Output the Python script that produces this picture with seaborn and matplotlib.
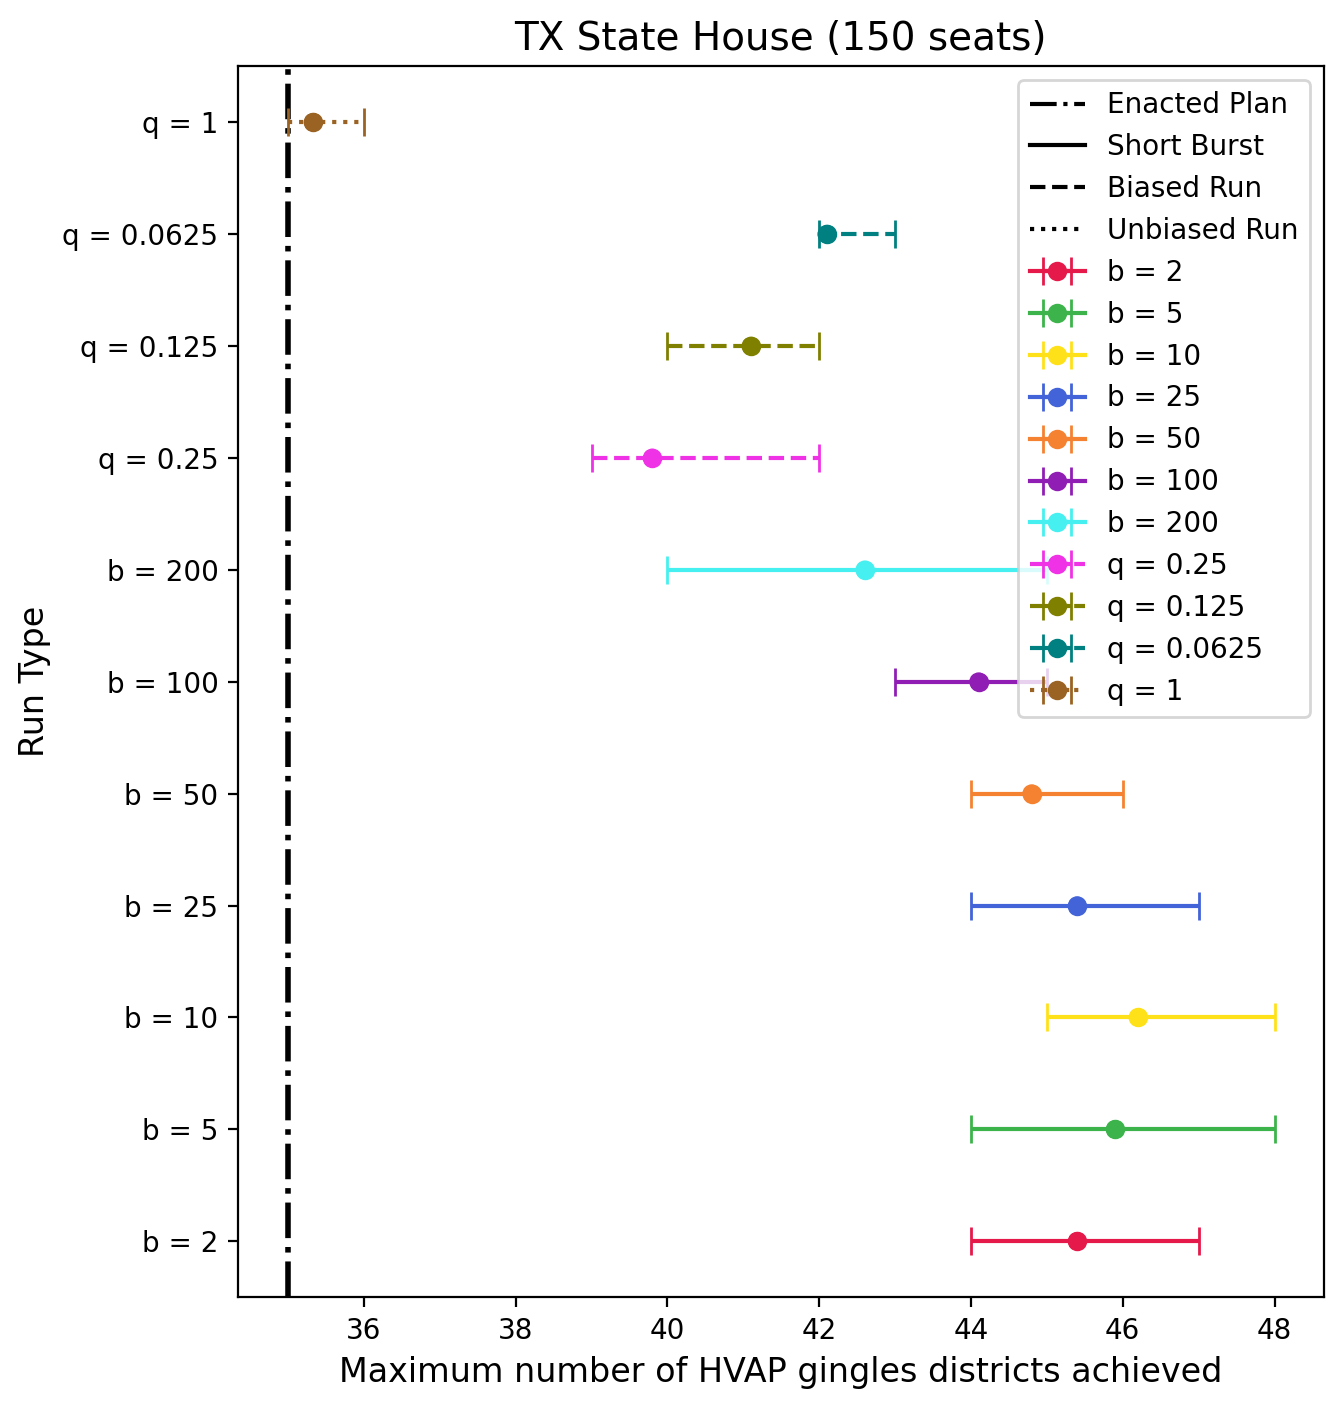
import numpy as np
import pandas as pd
import seaborn as sns
import matplotlib
matplotlib.use('Agg')
import matplotlib.pyplot as plt
from matplotlib.lines import Line2D

# данные
run_types = ['b = 2', 'b = 5', 'b = 10', 'b = 25', 'b = 50', 'b = 100', 'b = 200',
             'q = 0.25', 'q = 0.125', 'q = 0.0625', 'q = 1']
mean_vals = [45.4, 45.9, 46.2, 45.4, 44.8, 44.1, 42.6, 39.8, 41.1, 42.1, 35.33]
min_vals = [44, 44, 45, 44, 44, 43, 40, 39, 40, 42, 35]
max_vals = [47, 48, 48, 47, 46, 45, 45, 42, 42, 43, 36]
run_kind = ['short'] * 7 + ['biased'] * 3 + ['unbiased']
colors = ['#e6194b', '#3cb44b', '#ffe119', '#4363d8', '#f58231', '#911eb4',
          '#46f0f0', '#f032e6', '#808000', '#008080', '#9a6324']
enacted = 35

df = pd.DataFrame({'run': run_types, 'mean': mean_vals, 'lo': min_vals,
                   'hi': max_vals, 'kind': run_kind, 'color': colors})
df['y'] = np.arange(len(df))
style_map = {'short': '-', 'biased': '--', 'unbiased': ':'}

fig, ax = plt.subplots(figsize=(6.72, 7.05), dpi=200)
fig.subplots_adjust(left=0.177, right=0.985, top=0.953, bottom=0.080)

ax.axvline(enacted, color='black', linestyle='-.', linewidth=2, zorder=1)

for _, row in df.iterrows():
    ls = style_map[row['kind']]
    eb = ax.errorbar(row['mean'], row['y'],
                     xerr=[[row['mean'] - row['lo']], [row['hi'] - row['mean']]],
                     fmt='o', linestyle=ls, color=row['color'], capsize=5,
                     label=row['run'], zorder=2)
    eb[-1][0].set_linestyle(ls)

sns.scatterplot(data=df, x='mean', y='y', hue='run', palette=colors,
                s=45, edgecolor='none', legend=False, ax=ax, zorder=3)

ax.set_yticks(df['y'])
ax.set_yticklabels(df['run'])
ax.set_xticks([36, 38, 40, 42, 44, 46, 48])
ax.set_xlim(34.34, 48.65)
ax.set_ylim(-0.5, 10.5)
ax.set_title('TX State House (150 seats)', fontsize=14)
ax.set_xlabel('Maximum number of HVAP gingles districts achieved', fontsize=12)
ax.set_ylabel('Run Type', fontsize=12)

style_handles = [Line2D([], [], color='black', linestyle='-.', label='Enacted Plan'),
                 Line2D([], [], color='black', linestyle='-', label='Short Burst'),
                 Line2D([], [], color='black', linestyle='--', label='Biased Run'),
                 Line2D([], [], color='black', linestyle=':', label='Unbiased Run')]
eb_handles, eb_labels = ax.get_legend_handles_labels()
ax.legend(handles=style_handles + eb_handles,
          labels=[h.get_label() for h in style_handles] + eb_labels,
          loc='upper right')

fig.savefig('out.png', dpi=200)
